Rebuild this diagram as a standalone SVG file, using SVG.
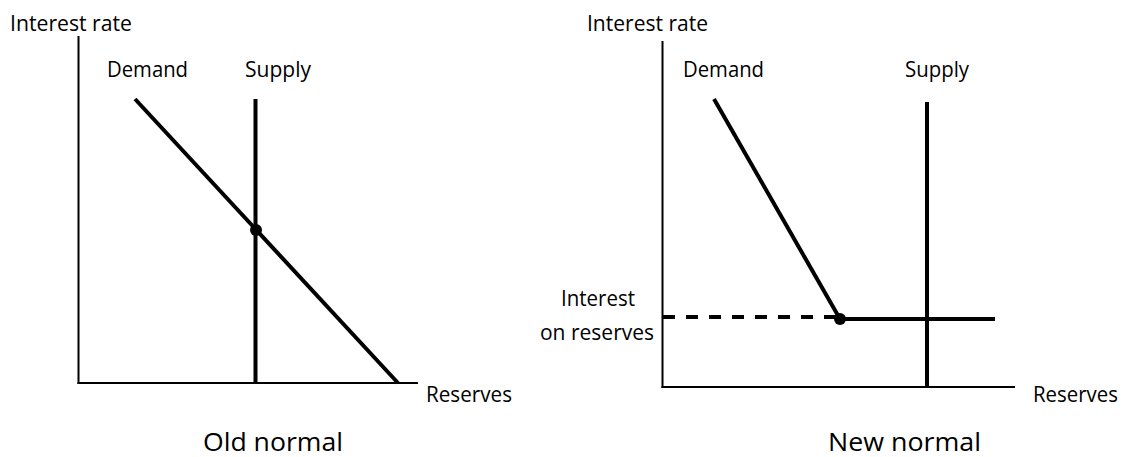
<svg xmlns="http://www.w3.org/2000/svg" width="1122" height="457" viewBox="0 0 1122 457">
<style>
text{font-family:"Open Sans","Noto Sans","Liberation Sans",sans-serif;fill:#000;}
.lbl{font-size:21px;}
.ttl{font-size:26px;}
.axis{stroke:#000;stroke-width:2;fill:none;}
.curve{stroke:#000;stroke-width:4;fill:none;}
.dash{stroke:#000;stroke-width:4;fill:none;stroke-dasharray:12 11;}
.dot{fill:#000;}
</style>
<rect width="1122" height="457" fill="#fff"/>
<g id="old-normal">
  <g id="old-axes">
    <line class="axis" x1="78.5" y1="36" x2="78.5" y2="384"/>
    <line class="axis" x1="77.5" y1="383" x2="418" y2="383"/>
    <text class="lbl" x="10" y="31" textLength="122" lengthAdjust="spacingAndGlyphs">Interest rate</text>
    <text class="lbl" x="426" y="402" textLength="86" lengthAdjust="spacingAndGlyphs">Reserves</text>
  </g>
  <g id="old-demand">
    <text class="lbl" x="107" y="77" textLength="81" lengthAdjust="spacingAndGlyphs">Demand</text>
  </g>
  <g id="old-supply">
    <text class="lbl" x="245" y="77" textLength="66" lengthAdjust="spacingAndGlyphs">Supply</text>
  </g>
  <text class="ttl" x="273" y="451" text-anchor="middle" textLength="140" lengthAdjust="spacingAndGlyphs">Old normal</text>
</g>
<g id="new-normal">
  <g id="new-axes">
    <line class="axis" x1="662.5" y1="41" x2="662.5" y2="388"/>
    <line class="axis" x1="661.5" y1="387" x2="1015" y2="387"/>
    <text class="lbl" x="587" y="31" textLength="121" lengthAdjust="spacingAndGlyphs">Interest rate</text>
    <text class="lbl" x="1033" y="402" textLength="85" lengthAdjust="spacingAndGlyphs">Reserves</text>
  </g>
  <g id="new-demand">
    <text class="lbl" x="683" y="77" textLength="81" lengthAdjust="spacingAndGlyphs">Demand</text>
  </g>
  <g id="new-supply">
    <text class="lbl" x="905" y="77" textLength="64" lengthAdjust="spacingAndGlyphs">Supply</text>
  </g>
  <g id="interest-on-reserves">
    <text class="lbl" x="598" y="306" text-anchor="middle" textLength="74" lengthAdjust="spacingAndGlyphs">Interest</text>
    <text class="lbl" x="597" y="340" text-anchor="middle">on reserves</text>
  </g>
  <text class="ttl" x="904.5" y="451" text-anchor="middle" textLength="153" lengthAdjust="spacingAndGlyphs">New normal</text>
</g>
<g id="connectors">
  <line class="curve" x1="135" y1="99" x2="398" y2="383"/>
  <line class="curve" x1="255.5" y1="99" x2="255.5" y2="383"/>
  <circle class="dot" cx="256" cy="230" r="6"/>
  <line class="curve" x1="714" y1="99" x2="840" y2="319"/>
  <line class="curve" x1="840" y1="319" x2="995" y2="319"/>
  <line class="dash" x1="663" y1="317" x2="838" y2="317"/>
  <line class="curve" x1="927" y1="102" x2="927" y2="387"/>
  <circle class="dot" cx="840" cy="319" r="6"/>
</g>
</svg>
